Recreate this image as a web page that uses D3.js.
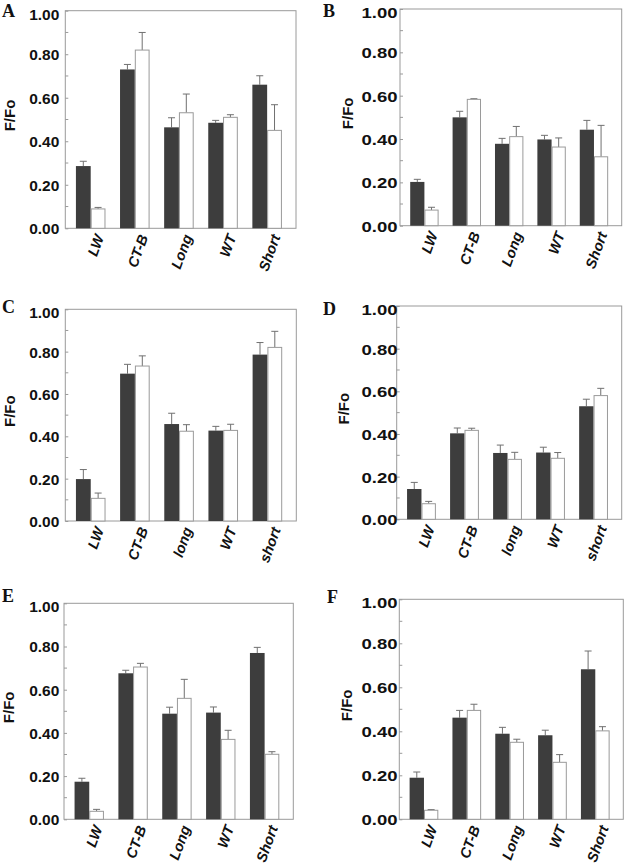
<!DOCTYPE html>
<html>
<head>
<meta charset="utf-8">
<script src="https://cdn.jsdelivr.net/npm/d3@7"></script>
<style>
  html, body { margin: 0; padding: 0; background: #fff; }
  svg { display: block; }
  .sans { font-family: "Liberation Sans", Arial, Helvetica, sans-serif; }
  .serif { font-family: "Liberation Serif", "Times New Roman", Times, serif; }
</style>
</head>
<body>
<svg id="chart" width="625" height="865"></svg>
<script>
// ---------------- DATA ----------------
const panelLabels = ["A", "B", "C", "D", "E", "F"];
const catsCap = ["LW", "CT-B", "Long", "WT", "Short"];
const catsLow = ["LW", "CT-B", "long", "WT", "short"];
const yTickValues = [0, 0.2, 0.4, 0.6, 0.8, 1.0];
const yMinorTicks = [0.1, 0.3, 0.5, 0.7, 0.9];
const yTitle = "F/Fo";

// panel A
const darkA = [0.286, 0.730, 0.464, 0.485, 0.660];
const darkErrA = [0.022, 0.023, 0.044, 0.011, 0.041];
const whiteA = [0.089, 0.819, 0.531, 0.510, 0.450];
const whiteErrA = [0.007, 0.081, 0.086, 0.012, 0.118];
// panel B
const darkB = [0.202, 0.500, 0.378, 0.398, 0.443];
const darkErrB = [0.012, 0.028, 0.025, 0.019, 0.043];
const whiteB = [0.072, 0.583, 0.411, 0.363, 0.318];
const whiteErrB = [0.013, 0.003, 0.047, 0.042, 0.145];
// panel C
const darkC = [0.198, 0.696, 0.458, 0.427, 0.786];
const darkErrC = [0.045, 0.044, 0.051, 0.020, 0.057];
const whiteC = [0.107, 0.732, 0.424, 0.428, 0.820];
const whiteErrC = [0.025, 0.048, 0.031, 0.029, 0.076];
// panel D
const darkD = [0.142, 0.403, 0.311, 0.313, 0.530];
const darkErrD = [0.031, 0.025, 0.037, 0.025, 0.033];
const whiteD = [0.073, 0.417, 0.281, 0.286, 0.580];
const whiteErrD = [0.011, 0.010, 0.033, 0.027, 0.034];
// panel E
const darkE = [0.174, 0.676, 0.489, 0.494, 0.770];
const darkErrE = [0.016, 0.014, 0.030, 0.026, 0.026];
const whiteE = [0.037, 0.705, 0.560, 0.370, 0.301];
const whiteErrE = [0.009, 0.017, 0.088, 0.042, 0.012];
// panel F
const darkF = [0.189, 0.462, 0.389, 0.382, 0.682];
const darkErrF = [0.026, 0.033, 0.029, 0.023, 0.083];
const whiteF = [0.041, 0.495, 0.350, 0.259, 0.402];
const whiteErrF = [0.003, 0.028, 0.014, 0.035, 0.019];

const panelData = [
  { cats: catsCap, dark: darkA, darkErr: darkErrA, white: whiteA, whiteErr: whiteErrA },
  { cats: catsCap, dark: darkB, darkErr: darkErrB, white: whiteB, whiteErr: whiteErrB },
  { cats: catsLow, dark: darkC, darkErr: darkErrC, white: whiteC, whiteErr: whiteErrC },
  { cats: catsLow, dark: darkD, darkErr: darkErrD, white: whiteD, whiteErr: whiteErrD },
  { cats: catsCap, dark: darkE, darkErr: darkErrE, white: whiteE, whiteErr: whiteErrE },
  { cats: catsCap, dark: darkF, darkErr: darkErrF, white: whiteF, whiteErr: whiteErrF }
];

// ---------------- LAYOUT (positions only) ----------------
const layout = [
  { x0: 65.3, x1: 296.0, yTop: 10.7,  yBot: 228.3, right: false, lx: 2,   ly: 17 },
  { x0: 400.0, x1: 621.7, yTop: 9.0,   yBot: 225.7, right: true,  lx: 323, ly: 17 },
  { x0: 65.3, x1: 296.3, yTop: 309.3, yBot: 521.0, right: false, lx: 2,   ly: 313 },
  { x0: 396.7, x1: 621.7, yTop: 306.0, yBot: 519.3, right: true,  lx: 323, ly: 315 },
  { x0: 64.0, x1: 293.3, yTop: 603.3, yBot: 819.3, right: false, lx: 2,   ly: 602 },
  { x0: 399.3, x1: 623.3, yTop: 599.3, yBot: 819.3, right: true,  lx: 327, ly: 603 }
];

const DARK = "#3d3d3d";
const GRAY = "#9a9a9a";
const ERR = "#707070";

const svg = d3.select("#chart");

panelData.forEach((pd, i) => {
  const L = layout[i];
  const g = svg.append("g");

  const x = d3.scaleBand().domain(pd.cats).range([L.x0, L.x1])
    .paddingInner(0.33).paddingOuter(0.28).align(0.43);
  const sub = d3.scaleBand().domain(["dark", "white"]).range([0, x.bandwidth()]);
  const y = d3.scaleLinear().domain([0, 1]).range([L.yBot, L.yTop]);

  // frame
  g.append("rect")
    .attr("x", L.x0).attr("y", L.yTop)
    .attr("width", L.x1 - L.x0).attr("height", L.yBot - L.yTop)
    .attr("fill", "none").attr("stroke", GRAY).attr("stroke-width", 1);

  // y axis
  const labelEnd = L.right ? 397.5 : 59.3;
  const axis = d3.axisLeft(y)
    .tickValues(yTickValues)
    .tickSize(-3)
    .tickPadding(L.x0 - labelEnd)
    .tickFormat(d3.format(".2f"));
  const ag = g.append("g").attr("transform", `translate(${L.x0},0)`).call(axis);
  ag.attr("font-family", null).attr("font-size", null);
  ag.select(".domain").remove();
  ag.selectAll(".tick line").attr("stroke", GRAY);
  ag.selectAll(".tick text")
    .attr("class", "sans")
    .attr("fill", "#111")
    .attr("font-weight", "bold")
    .attr("font-size", "15.5px")
    .attr("dy", d => d === 1 ? "0.55em" : "0.35em")
    .each(function () {
      if (L.right) d3.select(this).attr("textLength", 36).attr("lengthAdjust", "spacingAndGlyphs");
    });
  // minor ticks
  g.selectAll(".minor").data(yMinorTicks).enter().append("line")
    .attr("x1", L.x0).attr("x2", L.x0 + 3)
    .attr("y1", d => y(d)).attr("y2", d => y(d))
    .attr("stroke", GRAY);

  // y title
  g.append("text")
    .attr("class", "sans")
    .attr("transform", `translate(${L.x0 - (L.right ? 47.5 : 50)},${(L.yTop + L.yBot) / 2 - 4}) rotate(-90)`)
    .attr("text-anchor", "middle")
    .attr("font-weight", "bold")
    .attr("font-size", "15px")
    .attr("fill", "#111")
    .text(yTitle);

  // panel letter
  g.append("text")
    .attr("class", "serif")
    .attr("x", L.lx).attr("y", L.ly)
    .attr("font-weight", "bold")
    .attr("font-size", "18px")
    .attr("fill", "#111")
    .text(panelLabels[i]);

  // bars
  const rows = pd.cats.map((c, k) => ({
    cat: c,
    vals: [
      { key: "dark", v: pd.dark[k], e: pd.darkErr[k] },
      { key: "white", v: pd.white[k], e: pd.whiteErr[k] }
    ]
  }));

  const grp = g.selectAll(".grp").data(rows).enter().append("g")
    .attr("transform", d => `translate(${x(d.cat)},0)`);

  grp.selectAll(".err").data(d => d.vals).enter().append("path")
    .attr("d", d => {
      const cx = sub(d.key) + sub.bandwidth() / 2;
      const top = y(d.v + d.e), base = y(d.v);
      return `M${cx},${base}V${top}M${cx - 3.5},${top}H${cx + 3.5}`;
    })
    .attr("stroke", ERR).attr("stroke-width", 1).attr("fill", "none");

  grp.selectAll(".bar").data(d => d.vals).enter().append("rect")
    .attr("x", d => sub(d.key) + (d.key === "white" ? 0.5 : 0))
    .attr("y", d => y(d.v))
    .attr("width", d => sub.bandwidth() - (d.key === "white" ? 1 : 0))
    .attr("height", d => y(0) - y(d.v))
    .attr("fill", d => d.key === "dark" ? DARK : "#fff")
    .attr("stroke", d => d.key === "dark" ? "none" : GRAY)
    .attr("stroke-width", 1);

  // x labels
  g.selectAll(".xl").data(pd.cats).enter().append("text")
    .attr("class", "sans")
    .attr("transform", d => `translate(${x(d) + x.bandwidth() / 2 + 4},${L.yBot + 5}) rotate(-70)`)
    .attr("text-anchor", "end")
    .attr("dy", "0.7em")
    .attr("font-weight", "bold")
    .attr("font-style", "italic")
    .attr("font-size", "14.5px")
    .attr("fill", "#111")
    .text(d => d);
});
</script>
</body>
</html>
